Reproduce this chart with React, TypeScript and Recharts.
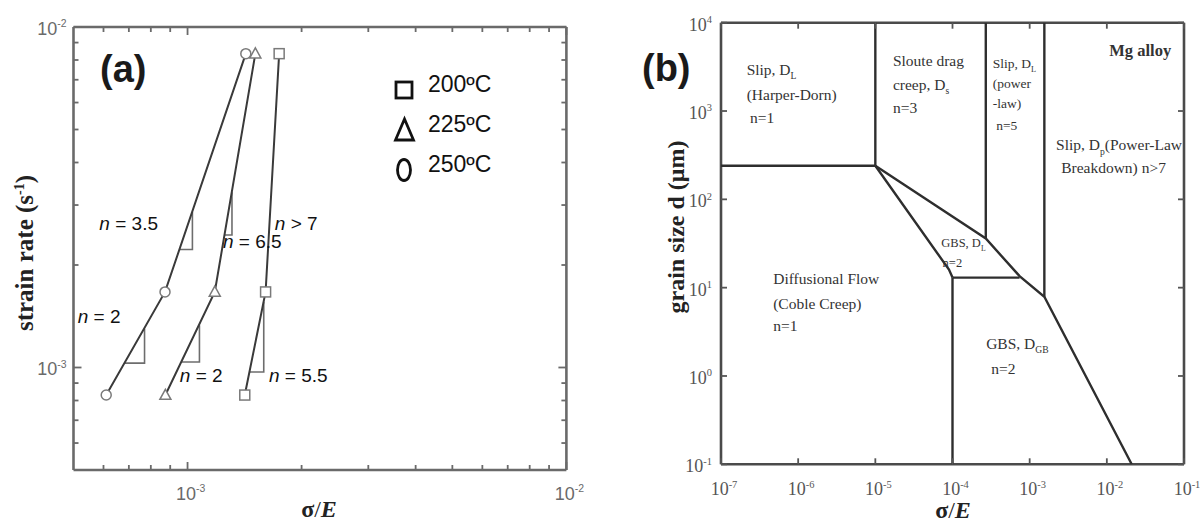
import React from 'react';
import { ComposedChart, Scatter, XAxis, YAxis, ReferenceDot } from 'recharts';

const SANS = '"Liberation Sans", Arial, Helvetica, sans-serif';
const SERIF = '"Liberation Serif", "Times New Roman", Times, serif';

// ---------------- Panel (a) data ----------------
const aDomain: [number, number] = [5e-4, 1e-2];
const aTicks = [6e-4, 7e-4, 8e-4, 9e-4, 1e-3, 2e-3, 3e-3, 4e-3, 5e-3, 6e-3, 7e-3, 8e-3, 9e-3, 1e-2];
const aMajorTicks = [1e-3, 1e-2];

const s200 = [
  { x: 1.416e-3, y: 8.3e-4 },
  { x: 1.607e-3, y: 1.667e-3 },
  { x: 1.745e-3, y: 8.35e-3 },
];
const s225 = [
  { x: 8.74e-4, y: 8.3e-4 },
  { x: 1.18e-3, y: 1.667e-3 },
  { x: 1.51e-3, y: 8.35e-3 },
];
const s250 = [
  { x: 6.1e-4, y: 8.3e-4 },
  { x: 8.72e-4, y: 1.667e-3 },
  { x: 1.425e-3, y: 8.35e-3 },
];

const aSeries = [
  { name: '200ºC', data: s200, marker: 'square' },
  { name: '225ºC', data: s225, marker: 'triangle' },
  { name: '250ºC', data: s250, marker: 'circle' },
];

// slope triangles (legs drawn along the data lines)
const slope250Low = [
  { x: 6.8e-4, y: 1.03e-3 },
  { x: 7.7e-4, y: 1.03e-3 },
  { x: 7.7e-4, y: 1.3e-3 },
];
const slope250High = [
  { x: 9.53e-4, y: 2.22e-3 },
  { x: 1.03e-3, y: 2.22e-3 },
  { x: 1.03e-3, y: 2.86e-3 },
];
const slope225Low = [
  { x: 9.64e-4, y: 1.038e-3 },
  { x: 1.075e-3, y: 1.038e-3 },
  { x: 1.075e-3, y: 1.33e-3 },
];
const slope225High = [
  { x: 1.254e-3, y: 2.45e-3 },
  { x: 1.31e-3, y: 2.45e-3 },
  { x: 1.31e-3, y: 3.27e-3 },
];
const slope200Low = [
  { x: 1.456e-3, y: 9.7e-4 },
  { x: 1.589e-3, y: 9.7e-4 },
  { x: 1.589e-3, y: 1.56e-3 },
];
const aSlopes = [slope250Low, slope250High, slope225Low, slope225High, slope200Low];

const aNotes = [
  { x: 5.85e-4, y: 2.53e-3, text: 'n = 3.5' },
  { x: 1.7e-3, y: 2.53e-3, text: 'n > 7' },
  { x: 1.24e-3, y: 2.24e-3, text: 'n = 6.5' },
  { x: 5.13e-4, y: 1.35e-3, text: 'n = 2' },
  { x: 9.54e-4, y: 9.05e-4, text: 'n = 2' },
  { x: 1.64e-3, y: 9.05e-4, text: 'n = 5.5' },
];

// ---------------- Panel (b) data ----------------
const bXDomain: [number, number] = [1e-7, 1e-1];
const bYDomain: [number, number] = [1e-1, 1e4];
const bXTicks = [1e-7, 1e-6, 1e-5, 1e-4, 1e-3, 1e-2, 1e-1];
const bYTicks = [1e-1, 1, 10, 100, 1e3, 1e4];

const bHarperTop = [
  { x: 1e-7, y: 240 },
  { x: 1e-5, y: 240 },
];
const bSoluteLeft = [
  { x: 1e-5, y: 1e4 },
  { x: 1e-5, y: 240 },
];
const bPowerLeft = [
  { x: 2.7e-4, y: 1e4 },
  { x: 2.7e-4, y: 36 },
];
const bBreakdownLeft = [
  { x: 1.55e-3, y: 1e4 },
  { x: 1.55e-3, y: 7.9 },
];
const bUpperDiagonal = [
  { x: 1e-5, y: 240 },
  { x: 2.7e-4, y: 36 },
  { x: 7.4e-4, y: 13.5 },
  { x: 1.55e-3, y: 7.9 },
  { x: 2.1e-2, y: 0.1 },
];
const bLowerDiagonal = [
  { x: 1e-5, y: 240 },
  { x: 9e-5, y: 16 },
  { x: 1e-4, y: 13 },
];
const bGbsShelf = [
  { x: 1e-4, y: 13 },
  { x: 7.4e-4, y: 13 },
];
const bCobleRight = [
  { x: 1e-4, y: 13 },
  { x: 1e-4, y: 0.1 },
];
const bBoundaries = [
  bHarperTop, bSoluteLeft, bPowerLeft, bBreakdownLeft,
  bUpperDiagonal, bLowerDiagonal, bGbsShelf, bCobleRight,
];

const bLabels = [
  { x: 2.15e-7, y: 2585, text: 'Slip, D_{L}', size: 15.5, bold: false },
  { x: 2.15e-7, y: 1343, text: '(Harper-Dorn)', size: 15.5, bold: false },
  { x: 2.37e-7, y: 731, text: 'n=1', size: 15.5, bold: false },
  { x: 1.69e-5, y: 3221, text: 'Sloute drag', size: 15.5, bold: false },
  { x: 1.69e-5, y: 1746, text: 'creep, D_{s}', size: 15.5, bold: false },
  { x: 1.69e-5, y: 949, text: 'n=3', size: 15.5, bold: false },
  { x: 3.33e-4, y: 3080, text: 'Slip, D_{L}', size: 13.5, bold: false },
  { x: 3.33e-4, y: 1825, text: '(power', size: 13.5, bold: false },
  { x: 3.33e-4, y: 1082, text: '-law)', size: 13.5, bold: false },
  { x: 3.69e-4, y: 613, text: 'n=5', size: 13.5, bold: false },
  { x: 1.076e-2, y: 4185, text: 'Mg alloy', size: 16.5, bold: true },
  { x: 2.2e-3, y: 363, text: 'Slip, D_{p}(Power-Law', size: 15.5, bold: false },
  { x: 2.56e-3, y: 197, text: 'Breakdown) n>7', size: 15.5, bold: false },
  { x: 7.16e-5, y: 29, text: 'GBS, D_{L}', size: 12.5, bold: false },
  { x: 7.44e-5, y: 17.2, text: 'n=2', size: 12.5, bold: false },
  { x: 4.75e-7, y: 11.1, text: 'Diffusional Flow', size: 15.5, bold: false },
  { x: 4.75e-7, y: 5.77, text: '(Coble Creep)', size: 15.5, bold: false },
  { x: 4.75e-7, y: 3.27, text: 'n=1', size: 15.5, bold: false },
  { x: 2.73e-4, y: 2.03, text: 'GBS, D_{GB}', size: 15.5, bold: false },
  { x: 3.18e-4, y: 1.05, text: 'n=2', size: 15.5, bold: false },
];

// ---------------- helpers ----------------
const isMajor = (v: number, majors: number[]) => majors.some((m) => Math.abs(m - v) / m < 1e-6);
const expOf = (v: number) => String(Math.round(Math.log10(v)));

type TickCfg = {
  side: 'bottom' | 'top' | 'left' | 'right';
  majors: number[];
  majorLen: number;
  minorLen: number;
  color: string;
  width: number;
  label: boolean;
  family: string;
  size: number;
  labelColor: string;
  gap: number;
  base: number;
};

const makeTick = (cfg: TickCfg) => (props: any) => {
  const x = Number(props.x);
  const y = Number(props.y);
  const v = Number(props.payload.value);
  const major = isMajor(v, cfg.majors);
  const L = major ? cfg.majorLen : cfg.minorLen;
  let d = '';
  if (cfg.side === 'bottom') d = `M${x},${y}V${y - L}`;
  if (cfg.side === 'top') d = `M${x},${y}V${y + L}`;
  if (cfg.side === 'left') d = `M${x},${y}H${x + L}`;
  if (cfg.side === 'right') d = `M${x},${y}H${x - L}`;
  let label = null;
  if (cfg.label && major) {
    const sup = cfg.size * 0.58;
    if (cfg.side === 'bottom') {
      label = (
        <text x={x + 3} y={y + cfg.gap} textAnchor="middle" fontFamily={cfg.family} fontSize={cfg.size} fill={cfg.labelColor} stroke="none">
          <tspan>10</tspan>
          <tspan dy={-cfg.size * 0.42} fontSize={sup}>{expOf(v)}</tspan>
        </text>
      );
    } else if (cfg.side === 'left') {
      label = (
        <text x={x - cfg.gap} y={y + cfg.base} textAnchor="end" fontFamily={cfg.family} fontSize={cfg.size} fill={cfg.labelColor} stroke="none">
          <tspan>10</tspan>
          <tspan dy={-cfg.size * 0.42} fontSize={sup}>{expOf(v)}</tspan>
        </text>
      );
    }
  }
  return (
    <g>
      <path d={d} stroke={cfg.color} strokeWidth={cfg.width} fill="none" />
      {label}
    </g>
  );
};

const parseRich = (s: string) => {
  const parts: { t: string; sub: boolean }[] = [];
  const re = /_\{([^}]*)\}/g;
  let last = 0;
  let m: RegExpExecArray | null;
  while ((m = re.exec(s))) {
    if (m.index > last) parts.push({ t: s.slice(last, m.index), sub: false });
    parts.push({ t: m[1], sub: true });
    last = re.lastIndex;
  }
  if (last < s.length) parts.push({ t: s.slice(last), sub: false });
  return parts;
};

const RichText = ({ x, y, text, size, bold, fill, family }: any) => {
  const parts = parseRich(text);
  let shift = 0;
  return (
    <text x={x} y={y} fontSize={size} fontFamily={family} fontWeight={bold ? 'bold' : 'normal'} fill={fill}>
      {parts.map((p, i) => {
        const target = p.sub ? size * 0.3 : 0;
        const dy = target - shift;
        shift = target;
        return (
          <tspan key={i} dy={dy} fontSize={p.sub ? size * 0.62 : size}>
            {p.t}
          </tspan>
        );
      })}
    </text>
  );
};

const Marker = ({ cx, cy, kind, stroke, fill, sw, s }: any) => {
  if (kind === 'square')
    return <rect x={cx - s} y={cy - s} width={2 * s} height={2 * s} fill={fill} stroke={stroke} strokeWidth={sw} />;
  if (kind === 'triangle')
    return (
      <polygon
        points={`${cx},${cy - s * 1.15} ${cx + s * 1.1},${cy + s * 0.85} ${cx - s * 1.1},${cy + s * 0.85}`}
        fill={fill}
        stroke={stroke}
        strokeWidth={sw}
        strokeLinejoin="miter"
      />
    );
  return <circle cx={cx} cy={cy} r={s} fill={fill} stroke={stroke} strokeWidth={sw} />;
};

const NoShape = () => <g />;

// ---------------- panels ----------------
const aTickBase = { majors: aMajorTicks, majorLen: 8, minorLen: 5, color: '#6a6a6a', width: 1.8, family: SANS, size: 18, labelColor: '#6a6a6a' };
const aAxisLine = { stroke: '#6a6a6a', strokeWidth: 2.6 };

const PanelA = () => (
  <ComposedChart width={600} height={522} margin={{ top: 26, right: 32.6, bottom: 51, left: 72.5 }}>
    <XAxis xAxisId="b" dataKey="x" type="number" scale="log" domain={aDomain} allowDataOverflow ticks={aTicks} interval={0}
      height={1} tickSize={0} tickMargin={0} tickLine={false} axisLine={aAxisLine}
      tick={makeTick({ ...aTickBase, side: 'bottom', label: true, gap: 30, base: 0 })} />
    <XAxis xAxisId="t" orientation="top" dataKey="x" type="number" scale="log" domain={aDomain} allowDataOverflow ticks={aTicks} interval={0}
      height={1} tickSize={0} tickMargin={0} tickLine={false} axisLine={aAxisLine}
      tick={makeTick({ ...aTickBase, side: 'top', label: false, gap: 0, base: 0 })} />
    <YAxis yAxisId="l" dataKey="y" type="number" scale="log" domain={aDomain} allowDataOverflow ticks={aTicks} interval={0}
      width={1} tickSize={0} tickMargin={0} tickLine={false} axisLine={aAxisLine}
      tick={makeTick({ ...aTickBase, side: 'left', label: true, gap: 7, base: 8 })} />
    <YAxis yAxisId="r" orientation="right" dataKey="y" type="number" scale="log" domain={aDomain} allowDataOverflow ticks={aTicks} interval={0}
      width={1} tickSize={0} tickMargin={0} tickLine={false} axisLine={aAxisLine}
      tick={makeTick({ ...aTickBase, side: 'right', label: false, gap: 0, base: 0 })} />
    {aSlopes.map((d, i) => (
      <Scatter key={'sl' + i} xAxisId="b" yAxisId="l" data={d} line={{ stroke: '#6d6d6d', strokeWidth: 1.6 }}
        shape={NoShape} isAnimationActive={false} />
    ))}
    {aSeries.map((s) => (
      <Scatter key={s.name} name={s.name} xAxisId="b" yAxisId="l" data={s.data}
        line={{ stroke: '#3a3a3a', strokeWidth: 2 }} isAnimationActive={false}
        shape={(p: any) => <Marker cx={p.cx} cy={p.cy} kind={s.marker} stroke="#7a7a7a" fill="#ffffff" sw={1.5} s={5} />} />
    ))}
    {aNotes.map((n, i) => (
      <ReferenceDot key={'n' + i} xAxisId="b" yAxisId="l" x={n.x} y={n.y} ifOverflow="visible"
        shape={(p: any) => (
          <text x={p.cx} y={p.cy} fontFamily={SANS} fontSize={19} fill="#111">
            <tspan fontStyle="italic">{n.text.slice(0, 1)}</tspan>
            <tspan>{n.text.slice(1)}</tspan>
          </text>
        )} />
    ))}
  </ComposedChart>
);

const bTickBase = { majorLen: 6, minorLen: 6, color: '#555', width: 1.8, family: SERIF, size: 18, labelColor: '#555' };
const bAxisLine = { stroke: '#4a4a4a', strokeWidth: 2.6 };

const PanelB = () => (
  <ComposedChart width={603} height={522} margin={{ top: 21.7, right: 18, bottom: 56.7, left: 120 }}>
    <XAxis xAxisId="b" dataKey="x" type="number" scale="log" domain={bXDomain} allowDataOverflow ticks={bXTicks} interval={0}
      height={1} tickSize={0} tickMargin={0} tickLine={false} axisLine={bAxisLine}
      tick={makeTick({ ...bTickBase, majors: bXTicks, side: 'bottom', label: true, gap: 31, base: 0 })} />
    <XAxis xAxisId="t" orientation="top" dataKey="x" type="number" scale="log" domain={bXDomain} allowDataOverflow ticks={bXTicks} interval={0}
      height={1} tickSize={0} tickMargin={0} tickLine={false} axisLine={bAxisLine}
      tick={makeTick({ ...bTickBase, majors: bXTicks, side: 'top', label: false, gap: 0, base: 0 })} />
    <YAxis yAxisId="l" dataKey="y" type="number" scale="log" domain={bYDomain} allowDataOverflow ticks={bYTicks} interval={0}
      width={1} tickSize={0} tickMargin={0} tickLine={false} axisLine={bAxisLine}
      tick={makeTick({ ...bTickBase, majors: bYTicks, side: 'left', label: true, gap: 9, base: 8 })} />
    <YAxis yAxisId="r" orientation="right" dataKey="y" type="number" scale="log" domain={bYDomain} allowDataOverflow ticks={bYTicks} interval={0}
      width={1} tickSize={0} tickMargin={0} tickLine={false} axisLine={bAxisLine}
      tick={makeTick({ ...bTickBase, majors: bYTicks, side: 'right', label: false, gap: 0, base: 0 })} />
    {bBoundaries.map((d, i) => (
      <Scatter key={'bd' + i} xAxisId="b" yAxisId="l" data={d} line={{ stroke: '#2e2e2e', strokeWidth: 2.4 }}
        shape={NoShape} isAnimationActive={false} />
    ))}
    {bLabels.map((l, i) => (
      <ReferenceDot key={'bl' + i} xAxisId="b" yAxisId="l" x={l.x} y={l.y} ifOverflow="visible"
        shape={(p: any) => <RichText x={p.cx} y={p.cy} text={l.text} size={l.size} bold={l.bold} fill="#333" family={SERIF} />} />
    ))}
  </ComposedChart>
);

const legendBaselines = [92, 132, 172];

const Overlay = () => (
  <svg width={1203} height={522} style={{ position: 'absolute', left: 0, top: 0, pointerEvents: 'none' }}>
    <text x={100} y={82} fontFamily={SANS} fontWeight="bold" fontSize={38} fill="#1a1a1a">(a)</text>
    <text x={642} y={81} fontFamily={SANS} fontWeight="bold" fontSize={38} fill="#1a1a1a">(b)</text>
    {aSeries.map((s, i) => {
      const by = legendBaselines[i];
      const cy = by - 2;
      let icon;
      if (s.marker === 'square') icon = <rect x={396} y={cy - 8} width={16} height={16} fill="none" stroke="#111" strokeWidth={2.8} />;
      else if (s.marker === 'triangle')
        icon = <polygon points={`404.5,${cy - 11} 413.5,${cy + 10} 395.5,${cy + 10}`} fill="none" stroke="#111" strokeWidth={2.8} />;
      else icon = <ellipse cx={404} cy={cy} rx={6.5} ry={10.5} fill="none" stroke="#111" strokeWidth={2.8} />;
      return (
        <g key={s.name}>
          {icon}
          <text x={428} y={by} fontFamily={SANS} fontSize={23} fill="#111">{s.name}</text>
        </g>
      );
    })}
    <text transform="translate(33,253) rotate(-90)" textAnchor="middle" fontFamily={SERIF} fontWeight="bold" fontSize={25} fill="#222">
      <tspan>strain rate (s</tspan>
      <tspan dy={-9} fontSize={14}>-1</tspan>
      <tspan dy={9}>)</tspan>
    </text>
    <text x={319} y={517} textAnchor="middle" fontFamily={SERIF} fontSize={24} fill="#222">
      <tspan fontWeight="bold">σ</tspan>
      <tspan>/</tspan>
      <tspan fontWeight="bold" fontStyle="italic">E</tspan>
    </text>
    <text transform="translate(684,227) rotate(-90)" textAnchor="middle" fontFamily={SERIF} fontWeight="bold" fontSize={24} fill="#222">
      grain size d (μm)
    </text>
    <text x={953} y={518} textAnchor="middle" fontFamily={SERIF} fontSize={24} fill="#222">
      <tspan fontWeight="bold">σ</tspan>
      <tspan>/</tspan>
      <tspan fontWeight="bold" fontStyle="italic">E</tspan>
    </text>
  </svg>
);

export default function App() {
  return (
    <div style={{ position: 'absolute', left: 0, top: 0, width: 1203, height: 522, background: '#fff', overflow: 'hidden' }}>
      <div style={{ position: 'absolute', left: 0, top: 0 }}>
        <PanelA />
      </div>
      <div style={{ position: 'absolute', left: 600, top: 0 }}>
        <PanelB />
      </div>
      <Overlay />
    </div>
  );
}
